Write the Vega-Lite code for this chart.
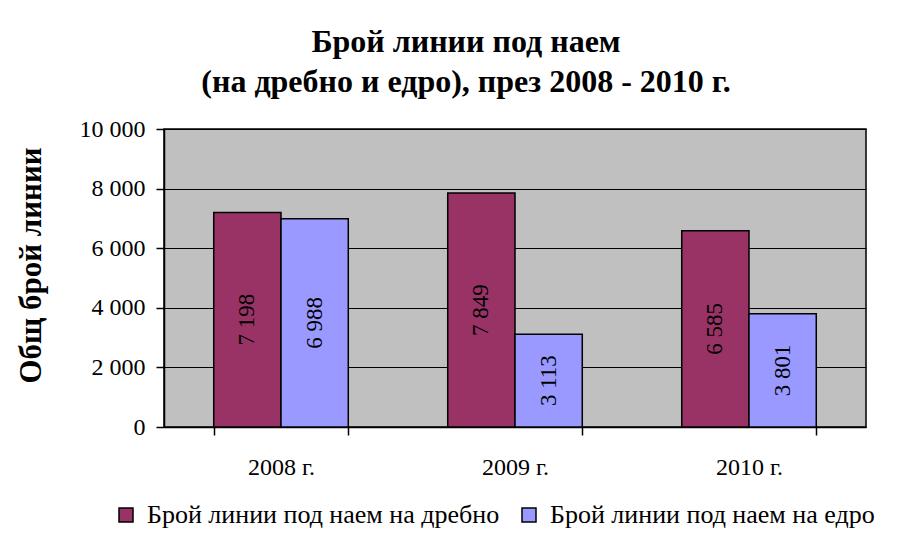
{
  "$schema": "https://vega.github.io/schema/vega-lite/v6.json",
  "width": 702,
  "height": 298,
  "autosize": "none",
  "padding": {"left": 164, "top": 129, "right": 44, "bottom": 112},
  "background": "white",
  "title": {
    "text": ["Брой линии под наем", "(на дребно и едро), през 2008 - 2010 г."],
    "font": "Liberation Serif",
    "fontSize": 32,
    "fontWeight": "bold",
    "color": "black",
    "anchor": "middle",
    "frame": "group",
    "dx": -49,
    "lineHeight": 40,
    "offset": 18
  },
  "data": {
    "values": [
      {"year": "2008 г.", "series": "Брой линии под наем на дребно", "value": 7198},
      {"year": "2008 г.", "series": "Брой линии под наем на едро", "value": 6988},
      {"year": "2009 г.", "series": "Брой линии под наем на дребно", "value": 7849},
      {"year": "2009 г.", "series": "Брой линии под наем на едро", "value": 3113},
      {"year": "2010 г.", "series": "Брой линии под наем на дребно", "value": 6585},
      {"year": "2010 г.", "series": "Брой линии под наем на едро", "value": 3801}
    ]
  },
  "encoding": {
    "x": {
      "field": "year",
      "type": "nominal",
      "scale": {"paddingInner": 0.425, "paddingOuter": 0.2125},
      "axis": {
        "title": null,
        "labelAngle": 0,
        "labelFont": "Liberation Serif",
        "labelFontSize": 24,
        "labelColor": "black",
        "labelPadding": 20,
        "tickBand": "extent",
        "tickSize": 8,
        "tickColor": "black",
        "domainColor": "black",
        "grid": false
      }
    },
    "xOffset": {"field": "series", "type": "nominal", "sort": ["Брой линии под наем на дребно", "Брой линии под наем на едро"], "scale": {"paddingInner": 0, "paddingOuter": 0}}
  },
  "layer": [
    {
      "mark": {"type": "bar", "stroke": "black", "strokeWidth": 1.5},
      "encoding": {
        "y": {
          "field": "value",
          "type": "quantitative",
          "scale": {"domain": [0, 10000], "nice": false},
          "axis": {
            "values": [0, 2000, 4000, 6000, 8000, 10000],
            "format": ",d",
            "title": "Общ брой линии",
            "titleFont": "Liberation Serif",
            "titleFontSize": 31,
            "titleFontWeight": "bold",
            "titleColor": "black",
            "titlePadding": 32,
            "titleY": 136,
            "labelFont": "Liberation Serif",
            "labelFontSize": 24,
            "labelColor": "black",
            "labelPadding": 11,
            "tickSize": 8,
            "tickColor": "black",
            "domainColor": "black",
            "gridColor": "black",
            "gridOpacity": 1,
            "gridWidth": 1
          }
        },
        "color": {
          "field": "series",
          "type": "nominal",
          "scale": {"domain": ["Брой линии под наем на дребно", "Брой линии под наем на едро"], "range": ["#993366", "#9999FF"]},
          "legend": {
            "title": null,
            "orient": "none",
            "legendX": -51,
            "legendY": 373,
            "direction": "horizontal",
            "labelFont": "Liberation Serif",
            "labelFontSize": 26,
            "labelColor": "black",
            "labelLimit": 500,
            "symbolType": "square",
            "symbolSize": 196,
            "symbolStrokeColor": "black",
            "symbolStrokeWidth": 1.5,
            "symbolOpacity": 1,
            "columnPadding": 16,
            "labelOffset": 8
          }
        }
      }
    },
    {
      "mark": {"type": "text", "angle": 270, "align": "center", "baseline": "middle", "font": "Liberation Serif", "fontSize": 23, "color": "black"},
      "encoding": {
        "y": {"field": "value", "type": "quantitative", "scale": {"domain": [0, 20000], "nice": false}, "axis": null},
        "text": {"field": "value", "type": "quantitative", "format": ",d"}
      }
    }
  ],
  "resolve": {"scale": {"y": "independent"}},
  "config": {
    "locale": {"number": {"decimal": ",", "thousands": " ", "grouping": [3], "currency": ["", ""]}},
    "view": {"fill": "#C0C0C0", "stroke": "black", "strokeWidth": 1.5},
    "axis": {"domainWidth": 1.5, "tickWidth": 1.5}
  }
}
